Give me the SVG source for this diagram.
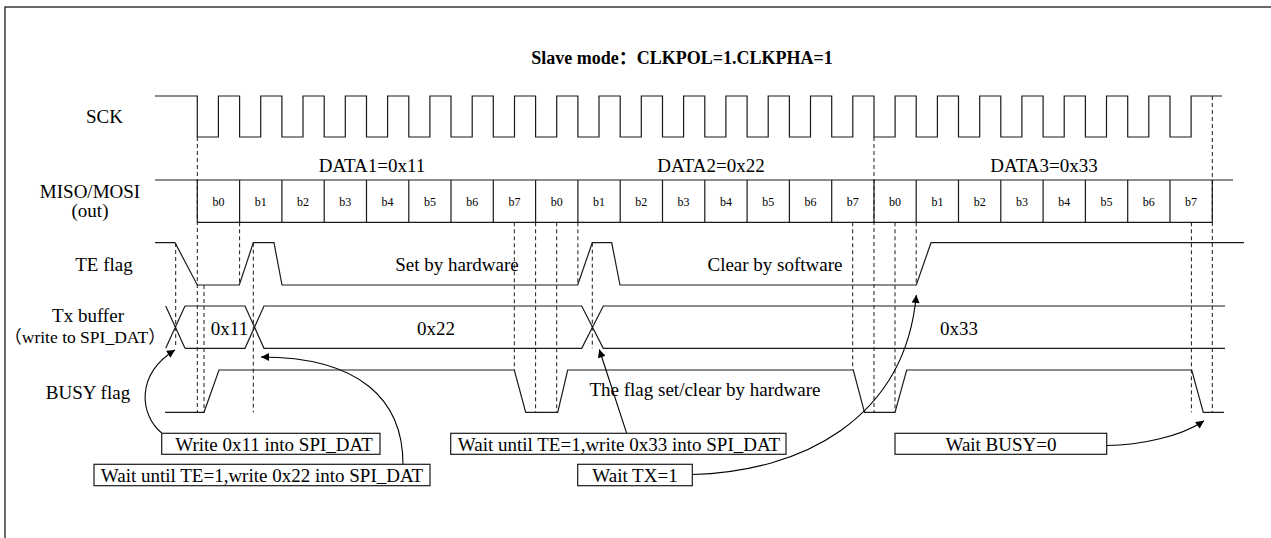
<svg xmlns="http://www.w3.org/2000/svg" width="1271" height="538" viewBox="0 0 1271 538">
<style>
text{font-family:"Liberation Serif","Noto Sans CJK SC",serif;fill:#000}
.lbl{font-size:19px;text-anchor:middle}
.bit{font-size:12px;text-anchor:middle}
.title{font-size:18px;font-weight:bold;text-anchor:middle}
.w{fill:none;stroke:#1a1a1a;stroke-width:1.2}
.d{fill:none;stroke:#1a1a1a;stroke-width:1;stroke-dasharray:4,3}
.box{fill:#fff;stroke:#1a1a1a;stroke-width:1.2}
.c{fill:none;stroke:#000;stroke-width:1.1}
</style>
<defs>
<marker id="ah" viewBox="0 0 10 10" refX="10" refY="5" markerWidth="11" markerHeight="8" markerUnits="userSpaceOnUse" orient="auto">
<path d="M0,0 L10,5 L0,10 z" fill="#000"/>
</marker>
</defs>
<rect x="5" y="7" width="1300" height="600" fill="#fff" stroke="#1a1a1a" stroke-width="1.3"/>
<text class="title" x="682" y="64">Slave mode：CLKPOL=1.CLKPHA=1</text>

<g id="labels">
<text class="lbl" x="104.5" y="123">SCK</text>
<text class="lbl" x="90" y="197.5">MISO/MOSI</text>
<text class="lbl" x="90" y="217">(out)</text>
<text class="lbl" x="104" y="270.5">TE flag</text>
<text class="lbl" x="88" y="321.5">Tx buffer</text>
<text class="lbl" x="85" y="343" style="font-size:17.5px">（write to SPI_DAT）</text>
<text class="lbl" x="88" y="399">BUSY flag</text>
</g>

<g id="sck">
<path class="w" d="M155,96 H197.3 V137 H218.4 V96 H239.6 V137 H260.7 V96 H281.9 V137 H303.0 V96 H324.2 V137 H345.3 V96 H366.5 V137 H387.6 V96 H408.8 V137 H429.9 V96 H451.0 V137 H472.2 V96 H493.3 V137 H514.5 V96 H535.6 V137 H556.7 V96 H577.9 V137 H599.0 V96 H620.2 V137 H641.3 V96 H662.5 V137 H683.6 V96 H704.8 V137 H725.9 V96 H747.1 V137 H768.2 V96 H789.4 V137 H810.5 V96 H831.7 V137 H852.8 V96 H874.0 V137 H895.1 V96 H916.2 V137 H937.4 V96 H958.5 V137 H979.7 V96 H1000.8 V137 H1021.9 V96 H1043.1 V137 H1064.2 V96 H1085.4 V137 H1106.5 V96 H1127.7 V137 H1148.8 V96 H1170.0 V137 H1191.1 V96 H1222"/>
<text class="lbl" x="372" y="171.5">DATA1=0x11</text>
<text class="lbl" x="711" y="171.5">DATA2=0x22</text>
<text class="lbl" x="1044" y="171.5">DATA3=0x33</text>
</g>

<g id="miso">
<path class="w" d="M155,180 H1233 M197.3,222.3 H1212.3 M197.3,180 V222.3 M239.6,180 V222.3 M281.9,180 V222.3 M324.2,180 V222.3 M366.5,180 V222.3 M408.8,180 V222.3 M451.0,180 V222.3 M493.3,180 V222.3 M535.6,180 V222.3 M577.9,180 V222.3 M620.2,180 V222.3 M662.5,180 V222.3 M704.8,180 V222.3 M747.1,180 V222.3 M789.4,180 V222.3 M831.7,180 V222.3 M874.0,180 V222.3 M916.2,180 V222.3 M958.5,180 V222.3 M1000.8,180 V222.3 M1043.1,180 V222.3 M1085.4,180 V222.3 M1127.7,180 V222.3 M1170.0,180 V222.3 M1212.3,180 V222.3"/>
<text class="bit" x="218.4" y="206">b0</text>
<text class="bit" x="260.7" y="206">b1</text>
<text class="bit" x="303.0" y="206">b2</text>
<text class="bit" x="345.3" y="206">b3</text>
<text class="bit" x="387.6" y="206">b4</text>
<text class="bit" x="429.9" y="206">b5</text>
<text class="bit" x="472.2" y="206">b6</text>
<text class="bit" x="514.5" y="206">b7</text>
<text class="bit" x="556.7" y="206">b0</text>
<text class="bit" x="599.0" y="206">b1</text>
<text class="bit" x="641.3" y="206">b2</text>
<text class="bit" x="683.6" y="206">b3</text>
<text class="bit" x="725.9" y="206">b4</text>
<text class="bit" x="768.2" y="206">b5</text>
<text class="bit" x="810.5" y="206">b6</text>
<text class="bit" x="852.8" y="206">b7</text>
<text class="bit" x="895.1" y="206">b0</text>
<text class="bit" x="937.4" y="206">b1</text>
<text class="bit" x="979.7" y="206">b2</text>
<text class="bit" x="1021.9" y="206">b3</text>
<text class="bit" x="1064.2" y="206">b4</text>
<text class="bit" x="1106.5" y="206">b5</text>
<text class="bit" x="1148.8" y="206">b6</text>
<text class="bit" x="1191.1" y="206">b7</text>
</g>

<g id="guides">
<path class="d" d="M175.7,243 V348 M197.3,137 V412.3 M204,285 V412.3 M239.6,222.3 V285 M253.3,242.7 V412.3 M514.3,222.3 V370 M535.6,222.3 V412.3 M556.7,222.3 V412.3 M577.9,222.3 V285 M592.3,242.7 V348.3 M852.7,222.3 V370 M874.0,137 V412.3 M895,222.3 V412.3 M916.2,222.3 V285 M1191.4,222.3 V412.3 M1212.3,96 V412.3"/>
</g>

<g id="te">
<path class="w" d="M155,242.7 H175 L197.3,285 H239.3 L253.3,242.7 H274 L282,285 H577.7 L592.3,242.7 H611.7 L620,285 H916.3 L931,242.7 H1244"/>
<text class="lbl" x="457" y="270.5">Set by hardware</text>
<text class="lbl" x="775" y="270.5">Clear by software</text>
</g>

<g id="txbuf">
<path class="w" d="M165.7,306 L185,348.3 M165.7,348.3 L185,306 M185,306 H245 L264,348.3 H581.7 L603.3,306 H1225 M185,348.3 H245 L264,306 H581.7 L603.3,348.3 H1225"/>
<text class="lbl" x="229.5" y="334.5">0x11</text>
<text class="lbl" x="436" y="334.5">0x22</text>
<text class="lbl" x="959" y="334.5">0x33</text>
</g>

<g id="busy">
<path class="w" d="M165,412.3 H204 L219,370 H514.3 L525.7,412.3 H557.7 L567.7,370 H853.3 L864.5,412.3 H895 L906.7,370 H1191.7 L1203.3,412.3 H1224"/>
<text class="lbl" x="705" y="395.5">The flag set/clear by hardware</text>
</g>

<g id="connectors">
<path class="c" marker-end="url(#ah)" d="M161.7,433 C140,415 135,375 175,350"/>
<path class="c" marker-end="url(#ah)" d="M403,464.3 C403,400 360,357 261,357"/>
<path class="c" marker-end="url(#ah)" d="M626.7,433.3 L599.3,349.5"/>
<path class="c" marker-end="url(#ah)" d="M692.3,474.5 C800,472 905,420 916.3,295"/>
<path class="c" marker-end="url(#ah)" d="M1106.7,445.5 C1140,445 1180,437 1204,420.7"/>
</g>

<g id="box-write11">
<rect class="box" x="161.7" y="433.3" width="218.3" height="21"/>
<text class="lbl" x="274" y="450.5">Write 0x11 into SPI_DAT</text>
</g>
<g id="box-wait22">
<rect class="box" x="94" y="464.3" width="336" height="21.4"/>
<text class="lbl" x="262" y="481.5">Wait until TE=1,write 0x22 into SPI_DAT</text>
</g>
<g id="box-wait33">
<rect class="box" x="450.7" y="433.3" width="335.3" height="21"/>
<text class="lbl" x="619" y="450.5">Wait until TE=1,write 0x33 into SPI_DAT</text>
</g>
<g id="box-waittx">
<rect class="box" x="577.7" y="464.3" width="114.6" height="21.4"/>
<text class="lbl" x="635" y="481.5">Wait TX=1</text>
</g>
<g id="box-waitbusy">
<rect class="box" x="895" y="433.3" width="211.7" height="21"/>
<text class="lbl" x="1001" y="450.5">Wait BUSY=0</text>
</g>
</svg>
